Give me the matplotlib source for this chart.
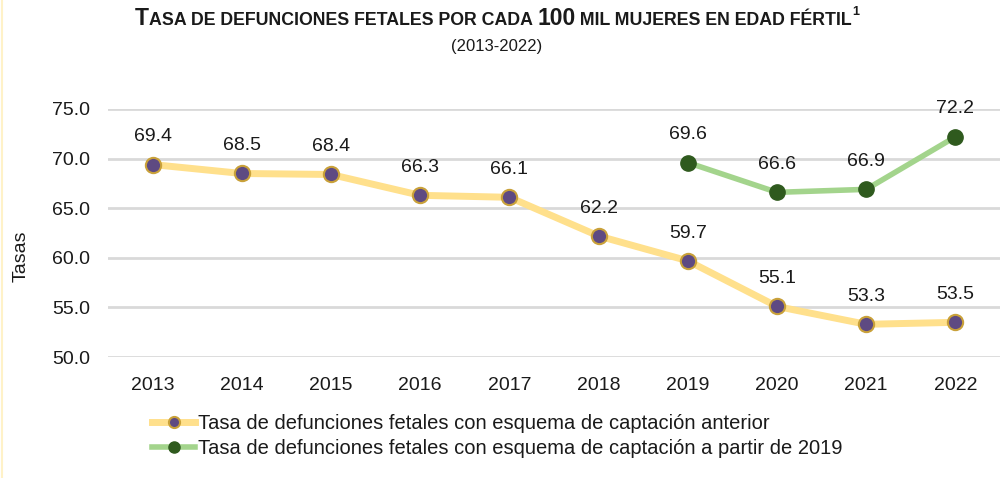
import matplotlib
matplotlib.use("Agg")
import matplotlib.pyplot as plt
from matplotlib.lines import Line2D

years = ["2013", "2014", "2015", "2016", "2017", "2018", "2019", "2020", "2021", "2022"]
tasa_anterior = [69.4, 68.5, 68.4, 66.3, 66.1, 62.2, 59.7, 55.1, 53.3, 53.5]
years_nuevo = ["2019", "2020", "2021", "2022"]
tasa_nuevo = [69.6, 66.6, 66.9, 72.2]
yticks = [50.0, 55.0, 60.0, 65.0, 70.0, 75.0]
label_anterior = "Tasa de defunciones fetales con esquema de captación anterior"
label_nuevo = "Tasa de defunciones fetales con esquema de captación a partir de 2019"

plt.rcParams['font.family'] = ['Liberation Sans', 'DejaVu Sans']
TF = ['Liberation Sans', 'DejaVu Sans']

fig = plt.figure(figsize=(10, 4.78), dpi=100)
ax = fig.add_axes([0.108, 0.253, 0.892, 0.519])

x_all = list(range(len(years)))
x_new = [years.index(y) for y in years_nuevo]

yellow = "#FFE08C"
purple = "#5E4A82"
gold = "#C9A13A"
green_line = "#A3D48C"
green_mk = "#2F5A1E"
txt = '#1a1a1a'

ax.plot(x_all, tasa_anterior, color=yellow, lw=5, solid_capstyle='round', zorder=3,
        marker='o', ms=11, mfc=purple, mec=gold, mew=1.5)
ax.plot(x_new, tasa_nuevo, color=green_line, lw=4, solid_capstyle='round', zorder=3,
        marker='o', ms=11, mfc=green_mk, mec=green_mk, mew=1)

for xi, v in zip(x_all, tasa_anterior):
    ax.annotate(f"{v:.1f}", (xi, v), xytext=(0, 20), textcoords='offset points',
                ha='center', va='center', fontsize=14, color=txt, annotation_clip=False)
for xi, v in zip(x_new, tasa_nuevo):
    ax.annotate(f"{v:.1f}", (xi, v), xytext=(0, 20), textcoords='offset points',
                ha='center', va='center', fontsize=14, color=txt, annotation_clip=False)

ax.set_xlim(-0.5, len(years) - 0.5)
ax.set_ylim(50, 75)
ax.set_yticks(yticks)
ax.set_yticklabels([f"{t:.1f}" for t in yticks], fontsize=14, color=txt)
ax.set_xticks(x_all)
ax.set_xticklabels(years, fontsize=14, color=txt)
ax.tick_params(axis='x', length=0, pad=14)
ax.tick_params(axis='y', length=0, pad=13)
ax.grid(axis='y', color='#D9D9D9', lw=2)
ax.set_axisbelow(True)
for s in ax.spines.values():
    s.set_visible(False)

fig.text(0.021, 0.464, "Tasas", rotation=90, ha='center', va='center', fontsize=14, color=txt)

# Title with small caps effect
segs = [("T", 16.5), ("ASA DE DEFUNCIONES FETALES POR CADA ", 12.8), ("100", 16.5),
        (" MIL MUJERES EN EDAD FÉRTIL", 12.8)]
texts = []
for s, sz in segs:
    t = fig.text(0, 0, s, fontsize=sz, fontweight='bold', family=TF, color=txt,
                 ha='left', va='baseline')
    texts.append(t)
sup = fig.text(0, 0, "1", fontsize=9, fontweight='bold', family=TF, color=txt,
               ha='left', va='baseline')
texts.append(sup)

fig.canvas.draw()
r = fig.canvas.get_renderer()
widths = [t.get_window_extent(r).width for t in texts]
total = sum(widths)
W = fig.bbox.width
xc = (W * 0.497 - total / 2) / W
base_y = 0.948
for i, t in enumerate(texts):
    y = base_y + (0.02 if t is sup else 0)
    t.set_position((xc, y))
    xc += widths[i] / W

fig.text(0.497, 0.903, "(2013-2022)", fontsize=12, family=TF, ha='center', va='center',
         color=txt)

handles = [
    Line2D([], [], color=yellow, lw=5, marker='o', ms=8, mfc=purple, mec=gold, mew=1.5),
    Line2D([], [], color=green_line, lw=4, marker='o', ms=8, mfc=green_mk, mec=green_mk),
]
fig.legend(handles, [label_anterior, label_nuevo], loc='center left',
           bbox_to_anchor=(0.152, 0.088), frameon=False, fontsize=14.5,
           handlelength=2.15, handletextpad=0.15, labelspacing=0.3, borderaxespad=0,
           borderpad=0, labelcolor=txt)

fig.add_artist(Line2D([0.002, 0.002], [0, 1], transform=fig.transFigure, color='#FFF2C8', lw=1.5))

fig.savefig("out.png", dpi=100)
